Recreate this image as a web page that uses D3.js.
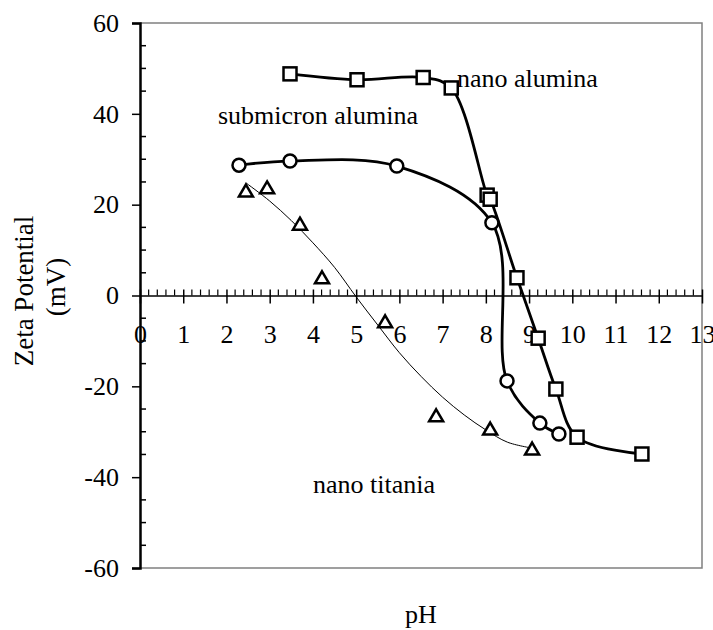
<!DOCTYPE html>
<meta charset="utf-8">
<style>
body { margin: 0; background: #fff; }
svg text { font-family: "Liberation Serif", "Times New Roman", serif; font-size: 26px; fill: #000; }
.frame { stroke: #808080; stroke-width: 1.5; fill: none; }
.fit { fill: none; stroke: #000; }
</style>
<script src="https://cdn.jsdelivr.net/npm/d3@7"></script>
<svg width="713" height="630"></svg>
<script>

// tick values
var xTicks = d3.range(0, 14);
var yTicks = [-60, -40, -20, 0, 20, 40, 60];

// nano alumina (squares)
var nanoAluminaPH   = [3.47, 5.02, 6.55, 7.20, 8.03, 8.10, 8.72, 9.21, 9.62, 10.11, 11.61];
var nanoAluminaZeta = [48.8, 47.5, 48.0, 45.7, 22.1, 21.2, 3.9, -9.4, -20.6, -31.2, -34.9];

// submicron alumina (circles)
var submicronPH   = [2.29, 3.47, 5.94, 8.14, 8.49, 9.25, 9.69];
var submicronZeta = [28.7, 29.6, 28.5, 16.0, -18.8, -28.1, -30.5];

// nano titania (triangles)
var titaniaPH   = [2.45, 2.94, 3.70, 4.21, 5.67, 6.85, 8.10, 9.07];
var titaniaZeta = [23.0, 23.7, 15.7, 3.9, -5.8, -26.5, -29.4, -33.8];

// thin trend curve for nano titania
var titaniaFitPH   = [2.45, 3.0, 3.5, 4.0, 4.5, 5.0, 5.5, 6.0, 6.5, 7.0, 7.5, 8.0, 8.5, 9.07];
var titaniaFitZeta = [24.8, 20.8, 16.5, 11.6, 6.2, -0.3, -6.5, -12.6, -17.8, -22.4, -26.3, -29.6, -32.3, -33.6];

var svg = d3.select("svg");

var x = d3.scaleLinear().domain([0, 13]).range([140, 702]);
var y = d3.scaleLinear().domain([-60, 60]).range([568, 23]);

function pairs(a, b) { return a.map(function(v, i) { return [v, b[i]]; }); }

// frame (top, right, bottom)
svg.append("path")
    .attr("class", "frame")
    .attr("d", "M" + x(0) + "," + y(60) + "H" + x(13) + "V" + y(-60) + "H" + x(0));

// y axis
var yAxis = svg.append("g")
    .attr("transform", "translate(" + x(0) + ",0)")
    .call(d3.axisLeft(y).tickValues(yTicks).tickSize(8).tickPadding(13)
        .tickFormat(function(d) { return String(d); }));
yAxis.attr("font-family", null).attr("font-size", null);
yAxis.select(".domain").attr("stroke", "#000").attr("stroke-width", 2.5);
yAxis.selectAll("line").attr("stroke-width", 1.5);

var yMinor = d3.range(-55, 60, 5).filter(function(d) { return d % 20 !== 0; });
svg.append("g").selectAll("line")
    .data(yMinor)
    .enter().append("line")
    .attr("x1", x(0)).attr("x2", x(0) + 6)
    .attr("y1", function(d) { return y(d); })
    .attr("y2", function(d) { return y(d); })
    .attr("stroke", "#000").attr("stroke-width", 1.5);

// x axis on the zero line
var xAxis = svg.append("g")
    .attr("transform", "translate(0," + y(0) + ")")
    .call(d3.axisBottom(x).tickValues(xTicks).tickSize(8).tickPadding(21).tickSizeOuter(0));
xAxis.attr("font-family", null).attr("font-size", null);
xAxis.select(".domain").attr("stroke", "#000").attr("stroke-width", 1.5);
xAxis.selectAll(".tick line").attr("y1", -6).attr("stroke-width", 1.5);

var xMinor = d3.range(1, 65).map(function(i) { return i / 5; }).filter(function(d, i) { return (i + 1) % 5 !== 0; });
svg.append("g").selectAll("line")
    .data(xMinor)
    .enter().append("line")
    .attr("x1", function(d) { return x(d); })
    .attr("x2", function(d) { return x(d); })
    .attr("y1", y(0)).attr("y2", y(0) - 6)
    .attr("stroke", "#000").attr("stroke-width", 1.2);

// curves
var smooth = d3.line()
    .x(function(d) { return x(d[0]); })
    .y(function(d) { return y(d[1]); })
    .curve(d3.curveCatmullRom.alpha(0.5));

svg.append("path").attr("class", "fit")
    .attr("stroke-width", 1)
    .attr("d", smooth(pairs(titaniaFitPH, titaniaFitZeta)));

svg.append("path").attr("class", "fit")
    .attr("stroke-width", 2.8)
    .attr("d", smooth(pairs(submicronPH, submicronZeta)));

svg.append("path").attr("class", "fit")
    .attr("stroke-width", 2.8)
    .attr("d", smooth(pairs(nanoAluminaPH, nanoAluminaZeta)));

// markers
svg.append("g").selectAll("rect")
    .data(pairs(nanoAluminaPH, nanoAluminaZeta))
    .enter().append("rect")
    .attr("x", function(d) { return x(d[0]) - 6.5; })
    .attr("y", function(d) { return y(d[1]) - 6.5; })
    .attr("width", 13).attr("height", 13)
    .attr("fill", "#fff").attr("stroke", "#000").attr("stroke-width", 2.5);

svg.append("g").selectAll("circle")
    .data(pairs(submicronPH, submicronZeta))
    .enter().append("circle")
    .attr("cx", function(d) { return x(d[0]); })
    .attr("cy", function(d) { return y(d[1]); })
    .attr("r", 6.5)
    .attr("fill", "#fff").attr("stroke", "#000").attr("stroke-width", 2.5);

svg.append("g").selectAll("path")
    .data(pairs(titaniaPH, titaniaZeta))
    .enter().append("path")
    .attr("transform", function(d) { return "translate(" + x(d[0]) + "," + y(d[1]) + ")"; })
    .attr("d", "M0,-6.5L7,5.5L-7,5.5Z")
    .attr("fill", "#fff").attr("stroke", "#000").attr("stroke-width", 2.5)
    .attr("stroke-linejoin", "miter");

// series labels
svg.append("text").attr("x", 218).attr("y", 124).text("submicron alumina");
svg.append("text").attr("x", 457).attr("y", 87).text("nano alumina");
svg.append("text").attr("x", 313).attr("y", 493).text("nano titania");

// axis titles
svg.append("text").attr("x", 421).attr("y", 623).attr("text-anchor", "middle").text("pH");
svg.append("text")
    .attr("transform", "translate(33,291) rotate(-90)")
    .attr("text-anchor", "middle").style("font-size", "27px").text("Zeta Potential");
svg.append("text")
    .attr("transform", "translate(65,287) rotate(-90)")
    .attr("text-anchor", "middle").style("font-size", "27px").text("(mV)");

</script>
